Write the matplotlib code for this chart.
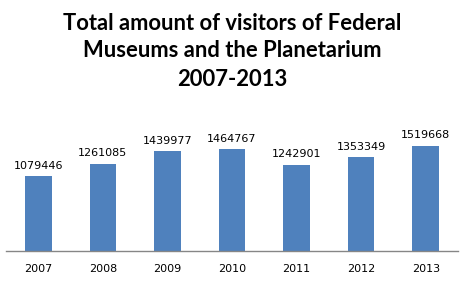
import numpy as np
import matplotlib.pyplot as plt

years = ['2007', '2008', '2009', '2010', '2011', '2012', '2013']
visitors = [1079446, 1261085, 1439977, 1464767, 1242901, 1353349, 1519668]

fig = plt.figure(figsize=(4.64, 2.83), dpi=100)
ax = fig.add_axes([6 / 464, 32 / 283, 452 / 464, 111 / 283])

x = np.arange(len(years))
bars = ax.bar(x, visitors, width=0.41, color='#4F81BD')

for xi, v in zip(x, visitors):
    ax.annotate(str(v), (xi, v), xytext=(0, 4), textcoords='offset points',
                ha='center', va='bottom', fontsize=8, family='DejaVu Sans')

ax.set_xlim(-0.5, len(years) - 0.5)
ax.set_ylim(0, 1600000)
ax.set_xticks(x)
ax.set_xticklabels(years, fontsize=8, family='DejaVu Sans')
ax.tick_params(axis='x', length=0, pad=9)
ax.set_yticks([])
for s in ['left', 'right', 'top']:
    ax.spines[s].set_visible(False)
ax.spines['bottom'].set_color('#868686')
ax.spines['bottom'].set_linewidth(1)

title_lines = ['Total amount of visitors of Federal', 'Museums and the Planetarium', '2007-2013']
for i, line in enumerate(title_lines):
    fig.text(0.5, 1 - (23 + 28 * i) / 283, line, ha='center', va='center',
             fontsize=15.8, fontweight='bold', family='Lato')

fig.savefig('out.png', dpi=100)
